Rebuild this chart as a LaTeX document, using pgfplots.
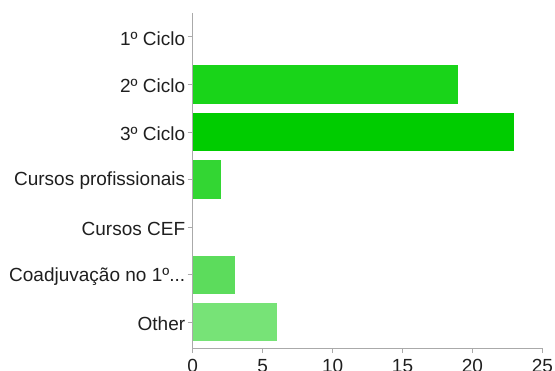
\documentclass[border=0pt]{standalone}
\usepackage{pgfplots}
\pgfplotsset{compat=1.18}
\usepackage{fontspec}
\setmainfont{Liberation Sans}
\definecolor{axgray}{HTML}{AAAAAA}
\definecolor{cA}{HTML}{19D419}
\definecolor{cB}{HTML}{00CC00}
\definecolor{cC}{HTML}{33D633}
\definecolor{cE}{HTML}{5CDC5C}
\definecolor{cF}{HTML}{77E377}
\begin{document}
\begin{tikzpicture}
\begin{axis}[
  scale only axis,
  width=349.7pt, height=335pt,
  xbar, bar shift=0pt, bar width=0.805,
  xmin=0, xmax=25,
  ymin=-0.5, ymax=6.54,
  y dir=reverse,
  axis x line*=bottom, axis y line*=left,
  axis line style={axgray, line width=0.8pt},
  xtick={0,5,10,15,20,25},
  ytick={0,1,2,3,4,5,6},
  yticklabels={1º Ciclo,2º Ciclo,3º Ciclo,Cursos profissionais,Cursos CEF,{Coadjuvação no 1º.{}.{}.},Other},
  tick style={axgray, line width=0.8pt},
  major tick length=5pt,
  tick align=outside,
  xtick pos=bottom, ytick pos=left,
  font=\fontsize{19}{22}\selectfont,
  ticklabel style={font=\fontsize{19}{22}\selectfont, text=black!88},
  /pgf/number format/assume math mode=true,
  yticklabel style={xshift=1pt, yshift=-1.5pt},
  xticklabel style={yshift=-3pt},
  enlargelimits=false,
  clip=false,
]
\addplot[fill=cA, draw=none] coordinates {(19,1)};
\addplot[fill=cB, draw=none] coordinates {(23,2)};
\addplot[fill=cC, draw=none] coordinates {(2,3)};
\addplot[fill=cE, draw=none] coordinates {(3,5)};
\addplot[fill=cF, draw=none] coordinates {(6,6)};
\end{axis}
\pgfresetboundingbox
\path (-192.7pt,-23pt) rectangle (362.3pt,348pt);
\end{tikzpicture}
\end{document}
